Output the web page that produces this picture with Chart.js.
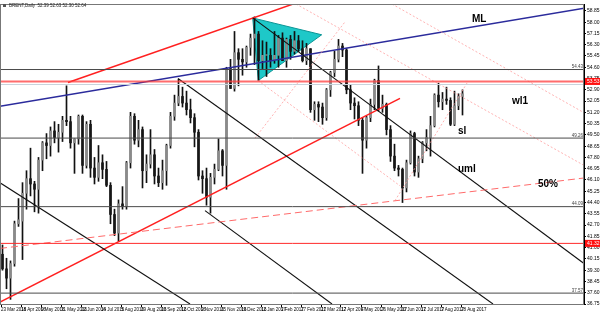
<!DOCTYPE html>
<html>
<head>
<meta charset="utf-8">
<script src="https://cdn.jsdelivr.net/npm/chart.js@4.4.1/dist/chart.umd.min.js"></script>
<style>
  html, body { margin: 0; padding: 0; background: #fff; }
  canvas { display: block; }
</style>
</head>
<body>
<canvas id="chart" width="600" height="313"></canvas>
<script>
// BRENT daily, each candle here groups 4 bars (x axis is in bar units)
const firstBar = 1;
const barsPerCandle = 4;

const opens = [
  40.5, 39.4, 38.7, 39.8, 42.8, 43.0, 45.1, 46.2, 45.8, 45.4,
  47.6, 48.9, 48.7, 49.8, 49.3, 49.7, 50.6, 50.5, 48.9, 49.2,
  50.9, 47.2, 50.3, 47.0, 46.3, 47.4, 46.9, 45.7, 43.5, 42.1,
  44.3, 44.1, 47.4, 50.9, 49.1, 49.9, 46.8, 47.3, 48.0, 46.4,
  45.9, 46.8, 48.7, 50.9, 51.9, 52.4, 51.9, 51.4, 50.8, 49.7,
  46.4, 46.2, 44.8, 46.3, 46.9, 48.3, 47.2, 54.5, 53.0, 55.7,
  55.2, 55.0, 56.1, 56.8, 57.1, 55.1, 55.5, 55.5, 55.1, 55.5,
  56.8, 55.1, 56.7, 55.8, 56.6, 56.0, 55.1, 56.0, 51.4, 51.8,
  51.6, 50.8, 52.9, 54.2, 55.2, 56.2, 55.9, 52.9, 51.9, 51.7,
  50.6, 49.1, 50.8, 51.8, 53.6, 51.5, 51.8, 49.9, 47.9, 47.0,
  46.9, 45.5, 47.4, 49.6, 46.7, 47.7, 48.9, 49.3, 50.2, 52.5,
  52.0, 52.2, 52.1, 50.3, 51.7, 52.4
];
const highs = [
  41.2, 40.2, 40.0, 43.0, 44.7, 45.9, 46.8, 48.5, 46.0, 47.8,
  49.0, 49.6, 50.1, 50.5, 50.3, 50.9, 53.2, 50.9, 49.2, 51.0,
  51.0, 50.5, 50.6, 47.8, 48.7, 48.0, 47.5, 45.9, 43.9, 44.6,
  45.6, 47.5, 51.2, 51.1, 50.6, 50.1, 48.0, 49.9, 48.4, 47.0,
  47.6, 48.8, 51.2, 52.5, 53.7, 53.1, 52.8, 52.2, 51.1, 49.9,
  46.8, 47.0, 46.6, 47.3, 49.2, 48.4, 54.6, 55.2, 57.3, 56.0,
  56.0, 56.2, 57.1, 58.4, 57.3, 56.6, 56.5, 56.0, 57.3, 57.0,
  57.2, 56.8, 57.0, 57.3, 57.0, 56.6, 56.4, 56.0, 52.0, 52.0,
  51.9, 53.0, 54.3, 55.8, 56.7, 56.4, 56.0, 53.3, 52.3, 52.0,
  50.8, 50.9, 52.2, 53.7, 54.7, 52.5, 51.9, 50.2, 48.8, 47.2,
  47.0, 47.6, 49.8, 49.7, 47.9, 49.0, 49.9, 50.9, 52.6, 53.4,
  52.7, 53.1, 52.3, 52.8, 52.6, 52.9
];
const lows = [
  39.3, 37.9, 37.1, 39.6, 42.6, 40.1, 43.9, 44.9, 43.7, 43.6,
  46.8, 47.7, 47.9, 48.9, 48.2, 49.0, 50.2, 48.5, 46.6, 48.8,
  46.6, 47.0, 46.3, 45.8, 46.0, 46.2, 45.6, 42.8, 41.9, 41.5,
  43.9, 43.9, 47.0, 48.8, 48.6, 45.5, 45.9, 47.0, 45.8, 45.6,
  45.4, 45.7, 48.5, 50.6, 51.7, 51.6, 51.0, 50.4, 48.6, 46.1,
  45.1, 44.2, 43.6, 45.8, 46.8, 46.4, 45.4, 53.0, 52.8, 53.2,
  54.0, 54.6, 55.5, 54.8, 53.6, 54.5, 53.9, 54.6, 54.9, 54.6,
  55.1, 54.6, 55.2, 55.6, 55.8, 55.0, 54.8, 51.2, 50.6, 50.5,
  50.3, 50.6, 52.4, 53.9, 55.0, 55.4, 52.6, 51.4, 50.7, 50.2,
  46.6, 48.5, 50.5, 51.4, 51.3, 51.2, 49.5, 47.5, 46.8, 46.4,
  44.4, 45.2, 47.3, 46.4, 46.3, 47.4, 48.3, 47.9, 50.1, 51.6,
  51.4, 51.8, 50.2, 50.2, 51.4, 51.0
];
const closes = [
  39.4, 38.7, 39.8, 42.8, 43.1, 45.1, 46.2, 45.8, 45.4, 47.6,
  48.9, 48.7, 49.8, 49.3, 49.7, 50.6, 50.5, 48.9, 49.2, 50.9,
  47.2, 50.3, 47.0, 46.3, 47.4, 46.9, 45.7, 43.5, 42.1, 44.3,
  44.1, 47.4, 50.9, 49.1, 49.9, 46.8, 47.3, 48.0, 46.4, 45.9,
  46.8, 48.7, 50.9, 51.9, 52.4, 51.9, 51.4, 50.8, 49.7, 46.4,
  46.2, 44.8, 46.3, 46.9, 48.3, 47.2, 54.5, 53.0, 55.7, 55.2,
  55.0, 56.1, 56.8, 57.1, 55.1, 55.5, 55.5, 55.1, 55.5, 56.8,
  55.1, 56.7, 55.8, 56.6, 56.0, 55.1, 56.0, 51.4, 51.8, 51.6,
  50.8, 52.9, 54.2, 55.2, 56.2, 55.9, 52.9, 51.9, 51.7, 50.6,
  49.1, 50.8, 51.8, 53.6, 51.5, 51.8, 49.9, 47.9, 47.0, 46.9,
  45.5, 47.4, 49.6, 46.7, 47.7, 48.9, 49.3, 50.2, 52.5, 52.0,
  52.2, 52.1, 50.3, 51.7, 52.4, 52.6
];

// time axis: one label every 20 bars
const dateLabels = [
  '23 Mar 2016', '18 Apr 2016', '9 May 2016', '31 May 2016', '22 Jun 2016',
  '14 Jul 2016', '5 Aug 2016', '29 Aug 2016', '20 Sep 2016', '12 Oct 2016',
  '3 Nov 2016', '25 Nov 2016', '19 Dec 2016', '12 Jan 2017', '3 Feb 2017',
  '27 Feb 2017', '21 Mar 2017', '12 Apr 2017', '4 May 2017', '26 May 2017',
  '20 Jun 2017', '12 Jul 2017', '3 Aug 2017', '28 Aug 2017'
];
const barsPerDateLabel = 20;

const priceTicks = [
  36.75, 37.60, 38.45, 39.30, 40.15, 41.00, 41.85, 42.70, 43.55, 44.40,
  45.25, 46.10, 46.95, 47.80, 48.65, 49.50, 50.35, 51.20, 52.05, 52.90,
  53.75, 54.60, 55.45, 56.30, 57.15, 58.00, 58.85
];

// drawn objects: [bar1, price1, bar2, price2]
const upperRedLine  = [68, 53.45, 300, 59.55];
const lowerRedLine  = [0, 36.90, 400, 52.25];
const medianLine    = [0, 51.66, 585, 59.06];
const fiftyLine     = [0, 40.94, 585, 46.26];
const octTrendLine  = [178, 53.75, 493, 36.75];
const janTrendLine  = [252.7, 58.32, 585, 39.75];
const novTrendLine  = [205, 43.79, 332, 36.75];
const leftTrendLine = [0, 45.89, 190, 36.75];
const pinkLines = [
  [296, 59.37, 585, 47.16],
  [392, 59.37, 585, 51.13],
  [258, 53.60, 400, 45.66],
  [255, 49.26, 345, 58.02],
  [395, 44.54, 468, 53.53]
];
const triangleBars   = [252.7, 258.3, 321.7];
const trianglePrices = [58.32, 53.60, 57.05];

const grayLevels = [54.43, 49.26, 44.09, 37.57];
const redLevels  = [41.32];
const bidPrice   = 53.53;
const askPrice   = 53.30;

const labelTexts  = ['ML', 'wl1', 'sl', 'uml', '50%'];
const labelBars   = [472, 512, 458, 458, 538];
const labelPrices = [58.25, 52.03, 49.78, 46.94, 45.81];

// ---------------------------------------------------------------------

const candleX = i => firstBar + i * barsPerCandle + (barsPerCandle - 1) / 2;
const FONT = '"Liberation Sans", Arial, sans-serif';

function segment(line, color, width, dash) {
  return {
    type: 'line',
    data: [{ x: line[0], y: line[1] }, { x: line[2], y: line[3] }],
    borderColor: color,
    borderWidth: width,
    borderDash: dash || [],
    pointRadius: 0,
    order: 1
  };
}

function level(price, color, width) {
  return segment([0, price, 600, price], color, width);
}

const wicks = {
  type: 'bar',
  data: opens.map((o, i) => ({ x: candleX(i), y: [lows[i], highs[i]] })),
  backgroundColor: '#111',
  barThickness: 1,
  grouped: false,
  order: 20
};

const bodies = {
  type: 'bar',
  data: opens.map((o, i) => {
    let lo = Math.min(o, closes[i]), hi = Math.max(o, closes[i]);
    if (hi - lo < 0.05) hi = lo + 0.05;
    return { x: candleX(i), y: [lo, hi] };
  }),
  backgroundColor: opens.map((o, i) => closes[i] >= o ? '#8a8a8a' : '#161616'),
  borderWidth: 0,
  barThickness: 2,
  grouped: false,
  order: 19
};

const datasets = [
  wicks, bodies,
  ...grayLevels.map(p => level(p, '#4a4a4a', 1)),
  ...redLevels.map(p => level(p, '#ff2a2a', 1)),
  level(askPrice, '#c9d3dc', 1),
  level(bidPrice, 'rgba(255,60,60,0.75)', 2),
  segment(fiftyLine, '#ff6a6a', 1, [7, 4]),
  ...pinkLines.map(l => segment(l, '#ffa0a0', 0.8, [2, 2])),
  segment(leftTrendLine, '#111', 1.1),
  segment(octTrendLine, '#111', 1.1),
  segment(janTrendLine, '#111', 1.1),
  segment(novTrendLine, '#111', 1.1),
  segment(upperRedLine, '#ff2020', 1.5),
  segment(lowerRedLine, '#ff2020', 1.5),
  segment(medianLine, '#2b2b9c', 1.5)
];

const trianglePlugin = {
  id: 'triangle',
  beforeDatasetsDraw(chart) {
    const { ctx, scales: { x, y } } = chart;
    ctx.save();
    ctx.beginPath();
    triangleBars.forEach((b, i) => {
      const px = x.getPixelForValue(b), py = y.getPixelForValue(trianglePrices[i]);
      if (i === 0) ctx.moveTo(px, py); else ctx.lineTo(px, py);
    });
    ctx.closePath();
    ctx.fillStyle = '#1ec8c8';
    ctx.fill();
    ctx.strokeStyle = '#0b9595';
    ctx.lineWidth = 1;
    ctx.stroke();
    ctx.restore();
  }
};

const overlayPlugin = {
  id: 'overlay',
  afterDatasetsDraw(chart) {
    const { ctx, scales: { x, y } } = chart;
    ctx.save();
    ctx.fillStyle = '#000';
    ctx.textBaseline = 'middle';
    ctx.font = 'bold 10px ' + FONT;
    labelTexts.forEach((t, i) => {
      ctx.fillText(t, x.getPixelForValue(labelBars[i]), y.getPixelForValue(labelPrices[i]));
    });
    // small price captions on the horizontal lines
    ctx.font = '4.5px ' + FONT;
    ctx.fillStyle = '#444';
    ctx.textAlign = 'right';
    ctx.textBaseline = 'bottom';
    grayLevels.forEach(p => {
      ctx.fillText(p.toFixed(2), chart.chartArea.right - 1, y.getPixelForValue(p) - 0.5);
    });
    ctx.restore();
  },
  afterDraw(chart) {
    const { ctx, chartArea: a, scales: { y } } = chart;
    ctx.save();
    ctx.strokeStyle = '#777';
    ctx.lineWidth = 1;
    ctx.strokeRect(a.left + 0.5, a.top + 0.5, a.right - a.left - 1, a.bottom - a.top);
    // red price boxes on the axis
    ctx.font = '5px ' + FONT;
    ctx.textBaseline = 'middle';
    ctx.textAlign = 'left';
    [bidPrice, ...redLevels].forEach(p => {
      const py = y.getPixelForValue(p);
      ctx.fillStyle = '#ff1010';
      ctx.fillRect(a.right + 1, py - 3.5, 15, 7);
      ctx.fillStyle = '#fff';
      ctx.fillText(p.toFixed(2), a.right + 3, py);
    });
    // header
    ctx.fillStyle = '#555';
    ctx.fillRect(3, 4, 3, 3);
    ctx.fillStyle = '#222';
    ctx.font = '4.5px ' + FONT;
    ctx.fillText('BRENT,Daily  52.39 52.63 52.30 52.64', 9, 6);
    ctx.restore();
  }
};

new Chart(document.getElementById('chart'), {
  type: 'line',
  data: { datasets },
  plugins: [trianglePlugin, overlayPlugin],
  options: {
    responsive: false,
    animation: false,
    devicePixelRatio: 1,
    layout: { padding: { top: 2, left: 0, right: 0, bottom: 0 } },
    plugins: { legend: { display: false }, tooltip: { enabled: false } },
    scales: {
      x: {
        type: 'linear',
        min: 0,
        max: 584,
        offset: false,
        grid: { display: true, drawOnChartArea: false, drawTicks: true, tickLength: 3, color: '#000', offset: false },
        border: { display: true, color: '#000' },
        afterBuildTicks: axis => {
          axis.ticks = dateLabels.map((d, k) => ({ value: firstBar + k * barsPerDateLabel }));
        },
        afterFit: axis => { axis.height = 9; },
        ticks: {
          autoSkip: false,
          maxRotation: 0,
          align: 'start',
          padding: 0,
          color: '#000',
          font: { size: 4.5, family: FONT },
          callback: (v, i) => dateLabels[i]
        }
      },
      y: {
        type: 'linear',
        position: 'right',
        min: 36.75,
        max: 59.37,
        grid: { drawOnChartArea: false, drawTicks: true, tickLength: 2, color: '#000' },
        border: { display: true, color: '#000' },
        afterBuildTicks: axis => {
          axis.ticks = priceTicks.map(v => ({ value: v }));
        },
        afterFit: axis => { axis.width = 16; },
        ticks: {
          padding: 1,
          color: '#000',
          font: { size: 5, family: FONT },
          callback: v => Number(v).toFixed(2)
        }
      }
    }
  }
});
</script>
</body>
</html>
